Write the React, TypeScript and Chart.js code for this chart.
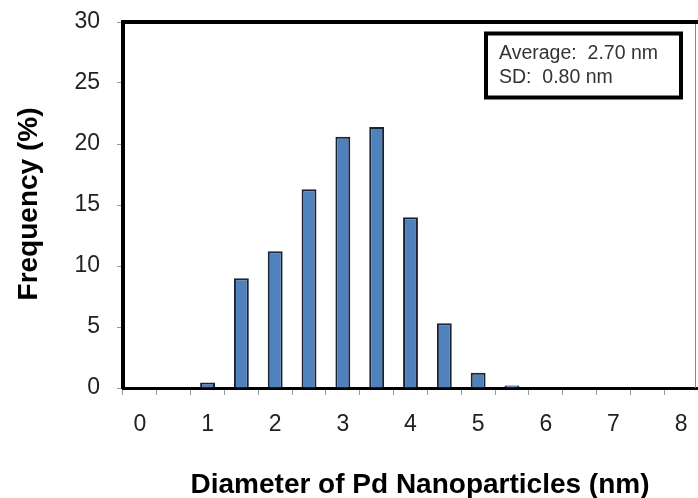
import React, { useEffect, useRef } from "react";
import { Chart, registerables } from "chart.js";

Chart.register(...registerables);

const diameters = ["0", "0.5", "1", "1.5", "2", "2.5", "3", "3.5", "4", "4.5", "5", "5.5", "6", "6.5", "7", "7.5", "8"];
const frequency = [0, 0, 0.45, 9.0, 11.2, 16.3, 20.6, 21.4, 14.0, 5.3, 1.25, 0.2, 0, 0, 0, 0, 0];
const yTicks = [0, 5, 10, 15, 20, 25, 30];
const statsLines = ["Average:  2.70 nm", "SD:  0.80 nm"];
const xTitle = "Diameter of Pd Nanoparticles (nm)";
const yTitle = "Frequency (%)";

const FONT = "'Liberation Sans', Arial, sans-serif";

export default function App() {
  const ref = useRef<HTMLCanvasElement>(null);

  useEffect(() => {
    document.body.style.margin = "0";
    const canvas = ref.current!;
    const decor = {
      id: "decor",
      beforeDatasetsDraw(chart: any) {
        const { ctx, chartArea } = chart;
        ctx.save();
        ctx.strokeStyle = "#888";
        ctx.lineWidth = 1;
        ctx.beginPath();
        ctx.moveTo(chartArea.right - 2.5, chartArea.top);
        ctx.lineTo(chartArea.right - 2.5, chartArea.bottom);
        ctx.stroke();
        ctx.strokeStyle = "#000";
        ctx.lineWidth = 4;
        ctx.beginPath();
        ctx.moveTo(chartArea.left - 2, chartArea.top);
        ctx.lineTo(chartArea.right, chartArea.top);
        ctx.stroke();
        ctx.restore();
      },
      afterDraw(chart: any) {
        const { ctx } = chart;
        ctx.save();
        const bx = 486, by = 33.5, bw = 195, bh = 64;
        ctx.fillStyle = "#fff";
        ctx.fillRect(bx, by, bw, bh);
        ctx.strokeStyle = "#000";
        ctx.lineWidth = 4;
        ctx.strokeRect(bx, by, bw, bh);
        ctx.fillStyle = "#333";
        ctx.font = `19.5px ${FONT}`;
        ctx.textAlign = "left";
        ctx.textBaseline = "alphabetic";
        ctx.fillText(statsLines[0], 499, 59);
        ctx.fillText(statsLines[1], 499, 83);
        ctx.fillStyle = "#000";
        ctx.font = `bold 28px ${FONT}`;
        ctx.textAlign = "center";
        ctx.textBaseline = "alphabetic";
        ctx.fillText(xTitle, 420, 493);
        ctx.translate(37, 204);
        ctx.rotate(-Math.PI / 2);
        ctx.fillText(yTitle, 0, 0);
        ctx.restore();
      },
    };

    const chart = new Chart(canvas, {
      type: "bar",
      data: {
        labels: diameters,
        datasets: [
          {
            data: frequency,
            backgroundColor: "#4F81BD",
            borderColor: "#1A2233",
            borderWidth: 2,
            borderSkipped: "bottom",
            categoryPercentage: 1,
            barPercentage: 0.44,
          },
        ],
      },
      options: {
        animation: false,
        responsive: false,
        maintainAspectRatio: false,
        layout: { padding: { top: 22, right: 0, left: 0, bottom: 0 } },
        plugins: { legend: { display: false }, tooltip: { enabled: false } },
        scales: {
          x: {
            type: "category",
            offset: true,
            grid: {
              offset: true,
              drawOnChartArea: false,
              drawTicks: true,
              tickLength: 7,
              tickColor: "#999",
              tickWidth: 1,
            },
            border: { color: "#000", width: 3 },
            ticks: {
              autoSkip: false,
              maxRotation: 0,
              padding: 16,
              color: "#222",
              font: { family: FONT, size: 23 },
              callback: (v: any, i: number) => (Number(diameters[i]) % 1 === 0 ? diameters[i] : ""),
            },
            afterFit: (s: any) => {
              s.height = 110;
              s.paddingLeft = 0;
              s.paddingRight = 0;
            },
          },
          y: {
            min: 0,
            max: 30,
            afterBuildTicks: (s: any) => {
              s.ticks = yTicks.map((v) => ({ value: v }));
            },
            grid: {
              drawOnChartArea: false,
              tickLength: 6,
              tickColor: "#999",
              tickWidth: 1,
            },
            border: { color: "#000", width: 4 },
            ticks: {
              padding: 17,
              color: "#222",
              font: { family: FONT, size: 23 },
            },
            afterFit: (s: any) => {
              s.width = 123;
              s.paddingTop = 0;
              s.paddingBottom = 0;
            },
          },
        },
      },
      plugins: [decor],
    });
    return () => chart.destroy();
  }, []);

  return (
    <div style={{ position: "fixed", left: 0, top: 0, width: 698, height: 498, background: "#fff" }}>
      <canvas ref={ref} width={698} height={498} style={{ width: 698, height: 498 }} />
    </div>
  );
}
